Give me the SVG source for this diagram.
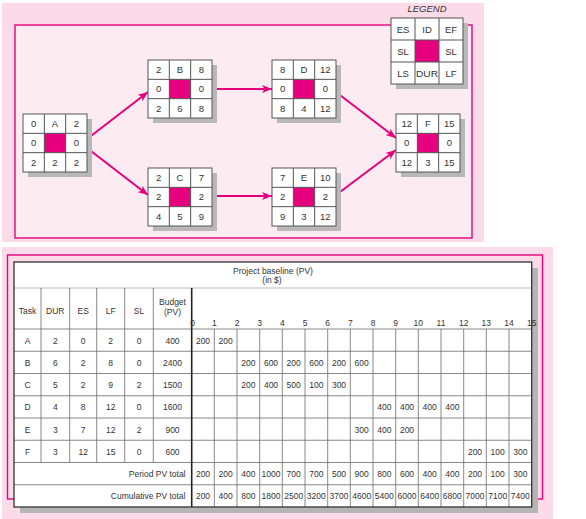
<svg xmlns="http://www.w3.org/2000/svg" width="586" height="519" viewBox="0 0 586 519">
<style>
text{font-family:"Liberation Sans",Arial,sans-serif;fill:#333;text-anchor:middle}
.nt{font-size:9.5px}
.tt{font-size:8.5px}
.shadow{fill:#b8b8b8}
.cell{fill:#fff;stroke:#555;stroke-width:1}
.mid{fill:#e6007e}
.grid{fill:none;stroke:#555;stroke-width:1}
.conn{stroke:#e6007e;stroke-width:2;fill:none;marker-end:url(#ah)}
.tg{stroke:#6a6a6a;stroke-width:0.8;fill:none}
.tl{stroke:#aaa;stroke-width:0.8;fill:none}
.r{text-anchor:end}
</style>
<defs>
<marker id="ah" markerUnits="userSpaceOnUse" markerWidth="10" markerHeight="8" viewBox="0 0 10 8" refX="10" refY="4" orient="auto">
<path d="M0 0L10 4L0 8L2.5 4Z" fill="#e6007e"/>
</marker>
</defs>
<!-- panels -->
<rect x="2" y="3" width="482" height="239" fill="#fadbe7"/>
<rect x="15" y="25" width="457" height="213" fill="#fdebf2" stroke="#e6007e" stroke-width="1.4"/>
<rect x="2" y="247" width="551" height="272" fill="#fadbe7"/>
<rect x="7.5" y="255" width="535" height="244" fill="none" stroke="#e6007e" stroke-width="1.4"/>

<g id="connectors">
<line class="conn" x1="87" y1="139" x2="148" y2="92"/>
<line class="conn" x1="87" y1="148" x2="148" y2="195"/>
<line class="conn" x1="211" y1="89" x2="272" y2="89"/>
<line class="conn" x1="211" y1="196" x2="272" y2="196"/>
<line class="conn" x1="336" y1="92" x2="396" y2="138"/>
<line class="conn" x1="336" y1="195" x2="396" y2="150"/>
</g>

<g id="node-A" transform="translate(23,114)">
<rect class="shadow" x="5" y="5" width="64" height="58"/>
<rect class="cell" width="64" height="58"/>
<rect class="mid" x="21.33" y="19.33" width="21.33" height="19.33"/>
<path class="grid" d="M21.33 0V58M42.67 0V58M0 19.33H64M0 38.67H64"/>
<text class="nt" x="10.67" y="13">0</text><text class="nt" x="32" y="13">A</text><text class="nt" x="53.33" y="13">2</text>
<text class="nt" x="10.67" y="32.4">0</text><text class="nt" x="53.33" y="32.4">0</text>
<text class="nt" x="10.67" y="51.7">2</text><text class="nt" x="32" y="51.7">2</text><text class="nt" x="53.33" y="51.7">2</text>
</g>
<g id="node-B" transform="translate(148,60)">
<rect class="shadow" x="5" y="5" width="64" height="58"/>
<rect class="cell" width="64" height="58"/>
<rect class="mid" x="21.33" y="19.33" width="21.33" height="19.33"/>
<path class="grid" d="M21.33 0V58M42.67 0V58M0 19.33H64M0 38.67H64"/>
<text class="nt" x="10.67" y="13">2</text><text class="nt" x="32" y="13">B</text><text class="nt" x="53.33" y="13">8</text>
<text class="nt" x="10.67" y="32.4">0</text><text class="nt" x="53.33" y="32.4">0</text>
<text class="nt" x="10.67" y="51.7">2</text><text class="nt" x="32" y="51.7">6</text><text class="nt" x="53.33" y="51.7">8</text>
</g>
<g id="node-C" transform="translate(148,168)">
<rect class="shadow" x="5" y="5" width="64" height="58"/>
<rect class="cell" width="64" height="58"/>
<rect class="mid" x="21.33" y="19.33" width="21.33" height="19.33"/>
<path class="grid" d="M21.33 0V58M42.67 0V58M0 19.33H64M0 38.67H64"/>
<text class="nt" x="10.67" y="13">2</text><text class="nt" x="32" y="13">C</text><text class="nt" x="53.33" y="13">7</text>
<text class="nt" x="10.67" y="32.4">2</text><text class="nt" x="53.33" y="32.4">2</text>
<text class="nt" x="10.67" y="51.7">4</text><text class="nt" x="32" y="51.7">5</text><text class="nt" x="53.33" y="51.7">9</text>
</g>
<g id="node-D" transform="translate(272,60)">
<rect class="shadow" x="5" y="5" width="64" height="58"/>
<rect class="cell" width="64" height="58"/>
<rect class="mid" x="21.33" y="19.33" width="21.33" height="19.33"/>
<path class="grid" d="M21.33 0V58M42.67 0V58M0 19.33H64M0 38.67H64"/>
<text class="nt" x="10.67" y="13">8</text><text class="nt" x="32" y="13">D</text><text class="nt" x="53.33" y="13">12</text>
<text class="nt" x="10.67" y="32.4">0</text><text class="nt" x="53.33" y="32.4">0</text>
<text class="nt" x="10.67" y="51.7">8</text><text class="nt" x="32" y="51.7">4</text><text class="nt" x="53.33" y="51.7">12</text>
</g>
<g id="node-E" transform="translate(272,168)">
<rect class="shadow" x="5" y="5" width="64" height="58"/>
<rect class="cell" width="64" height="58"/>
<rect class="mid" x="21.33" y="19.33" width="21.33" height="19.33"/>
<path class="grid" d="M21.33 0V58M42.67 0V58M0 19.33H64M0 38.67H64"/>
<text class="nt" x="10.67" y="13">7</text><text class="nt" x="32" y="13">E</text><text class="nt" x="53.33" y="13">10</text>
<text class="nt" x="10.67" y="32.4">2</text><text class="nt" x="53.33" y="32.4">2</text>
<text class="nt" x="10.67" y="51.7">9</text><text class="nt" x="32" y="51.7">3</text><text class="nt" x="53.33" y="51.7">12</text>
</g>
<g id="node-F" transform="translate(396,114)">
<rect class="shadow" x="5" y="5" width="64" height="58"/>
<rect class="cell" width="64" height="58"/>
<rect class="mid" x="21.33" y="19.33" width="21.33" height="19.33"/>
<path class="grid" d="M21.33 0V58M42.67 0V58M0 19.33H64M0 38.67H64"/>
<text class="nt" x="10.67" y="13">12</text><text class="nt" x="32" y="13">F</text><text class="nt" x="53.33" y="13">15</text>
<text class="nt" x="10.67" y="32.4">0</text><text class="nt" x="53.33" y="32.4">0</text>
<text class="nt" x="10.67" y="51.7">12</text><text class="nt" x="32" y="51.7">3</text><text class="nt" x="53.33" y="51.7">15</text>
</g>
<g id="legend">
<text class="nt" x="427" y="12" font-style="italic">LEGEND</text>
<g transform="translate(391,18)">
<rect class="shadow" x="5" y="5" width="72" height="66"/>
<rect class="cell" width="72" height="66"/>
<rect class="mid" x="24" y="22" width="24" height="22"/>
<path class="grid" d="M24 0V66M48 0V66M0 22H72M0 44H72"/>
<text class="nt" x="12" y="14.5">ES</text><text class="nt" x="36" y="14.5">ID</text><text class="nt" x="60" y="14.5">EF</text>
<text class="nt" x="12" y="36.5">SL</text><text class="nt" x="60" y="36.5">SL</text>
<text class="nt" x="12" y="58.5">LS</text><text class="nt" x="36" y="58.5" textLength="22" lengthAdjust="spacingAndGlyphs">DUR</text><text class="nt" x="60" y="58.5">LF</text>
</g>
</g>

<g id="table">
<rect x="20" y="268" width="518" height="245" fill="#b5b5b5"/>
<rect x="14" y="262" width="517.7" height="245" fill="#fff"/>
<path class="tl" d="M14 288H531.7"/>
<path class="tg" d="M41 288V462.5M69.7 288V462.5M96.7 288V462.5M124.7 288V462.5M153.3 288V462.5"/>
<path class="tg" d="M14 329H531.7M14 351.25H531.7M14 373.5H531.7M14 395.75H531.7M14 418H531.7M14 440.25H531.7M14 462.5H531.7M14 484.75H531.7"/>
<path class="tg" d="M214.3 329V507M237 329V507M259.7 329V507M282.3 329V507M305 329V507M327.7 329V507M350.3 329V507M373 329V507M395.7 329V507M418.3 329V507M441 329V507M463.7 329V507M486.3 329V507M509 329V507"/>
<line x1="191.7" y1="288" x2="191.7" y2="507" stroke="#222" stroke-width="1.6"/>
<rect x="14" y="262" width="517.7" height="245" fill="none" stroke="#333" stroke-width="1.3"/>

<text class="tt" x="273" y="274">Project baseline (PV)</text>
<text class="tt" x="272" y="282.5">(in $)</text>
<text class="tt" x="27.5" y="313.5">Task</text>
<text class="tt" x="55.3" y="313.5">DUR</text>
<text class="tt" x="83.2" y="313.5">ES</text>
<text class="tt" x="110.7" y="313.5">LF</text>
<text class="tt" x="139" y="313.5">SL</text>
<text class="tt" x="172.5" y="305">Budget</text>
<text class="tt" x="172.5" y="314.5">(PV)</text>
<g class="wk">
<text class="tt" x="192.5" y="325.5">0</text><text class="tt" x="214.3" y="325.5">1</text><text class="tt" x="237" y="325.5">2</text><text class="tt" x="259.7" y="325.5">3</text><text class="tt" x="282.3" y="325.5">4</text><text class="tt" x="305" y="325.5">5</text><text class="tt" x="327.7" y="325.5">6</text><text class="tt" x="350.3" y="325.5">7</text><text class="tt" x="373" y="325.5">8</text><text class="tt" x="395.7" y="325.5">9</text><text class="tt" x="418.3" y="325.5">10</text><text class="tt" x="441" y="325.5">11</text><text class="tt" x="463.7" y="325.5">12</text><text class="tt" x="486.3" y="325.5">13</text><text class="tt" x="509" y="325.5">14</text><text class="tt" x="531.7" y="325.5">15</text>
</g>
<!-- row A -->
<text class="tt" x="27.5" y="343.5">A</text><text class="tt" x="55.3" y="343.5">2</text><text class="tt" x="83.2" y="343.5">0</text><text class="tt" x="110.7" y="343.5">2</text><text class="tt" x="139" y="343.5">0</text><text class="tt" x="172.5" y="343.5">400</text>
<text class="tt" x="203" y="343.5">200</text><text class="tt" x="225.7" y="343.5">200</text>
<!-- row B -->
<text class="tt" x="27.5" y="365.75">B</text><text class="tt" x="55.3" y="365.75">6</text><text class="tt" x="83.2" y="365.75">2</text><text class="tt" x="110.7" y="365.75">8</text><text class="tt" x="139" y="365.75">0</text><text class="tt" x="172.5" y="365.75">2400</text>
<text class="tt" x="248.3" y="365.75">200</text><text class="tt" x="271" y="365.75">600</text><text class="tt" x="293.7" y="365.75">200</text><text class="tt" x="316.3" y="365.75">600</text><text class="tt" x="339" y="365.75">200</text><text class="tt" x="361.7" y="365.75">600</text>
<!-- row C -->
<text class="tt" x="27.5" y="388">C</text><text class="tt" x="55.3" y="388">5</text><text class="tt" x="83.2" y="388">2</text><text class="tt" x="110.7" y="388">9</text><text class="tt" x="139" y="388">2</text><text class="tt" x="172.5" y="388">1500</text>
<text class="tt" x="248.3" y="388">200</text><text class="tt" x="271" y="388">400</text><text class="tt" x="293.7" y="388">500</text><text class="tt" x="316.3" y="388">100</text><text class="tt" x="339" y="388">300</text>
<!-- row D -->
<text class="tt" x="27.5" y="410.25">D</text><text class="tt" x="55.3" y="410.25">4</text><text class="tt" x="83.2" y="410.25">8</text><text class="tt" x="110.7" y="410.25">12</text><text class="tt" x="139" y="410.25">0</text><text class="tt" x="172.5" y="410.25">1600</text>
<text class="tt" x="384.3" y="410.25">400</text><text class="tt" x="407" y="410.25">400</text><text class="tt" x="429.7" y="410.25">400</text><text class="tt" x="452.3" y="410.25">400</text>
<!-- row E -->
<text class="tt" x="27.5" y="432.5">E</text><text class="tt" x="55.3" y="432.5">3</text><text class="tt" x="83.2" y="432.5">7</text><text class="tt" x="110.7" y="432.5">12</text><text class="tt" x="139" y="432.5">2</text><text class="tt" x="172.5" y="432.5">900</text>
<text class="tt" x="361.7" y="432.5">300</text><text class="tt" x="384.3" y="432.5">400</text><text class="tt" x="407" y="432.5">200</text>
<!-- row F -->
<text class="tt" x="27.5" y="454.75">F</text><text class="tt" x="55.3" y="454.75">3</text><text class="tt" x="83.2" y="454.75">12</text><text class="tt" x="110.7" y="454.75">15</text><text class="tt" x="139" y="454.75">0</text><text class="tt" x="172.5" y="454.75">600</text>
<text class="tt" x="475" y="454.75">200</text><text class="tt" x="497.7" y="454.75">100</text><text class="tt" x="520.3" y="454.75">300</text>
<!-- period total -->
<text class="tt r" x="185.5" y="477">Period PV total</text>
<text class="tt" x="203" y="477">200</text><text class="tt" x="225.7" y="477">200</text><text class="tt" x="248.3" y="477">400</text><text class="tt" x="271" y="477">1000</text><text class="tt" x="293.7" y="477">700</text><text class="tt" x="316.3" y="477">700</text><text class="tt" x="339" y="477">500</text><text class="tt" x="361.7" y="477">900</text><text class="tt" x="384.3" y="477">800</text><text class="tt" x="407" y="477">600</text><text class="tt" x="429.7" y="477">400</text><text class="tt" x="452.3" y="477">400</text><text class="tt" x="475" y="477">200</text><text class="tt" x="497.7" y="477">100</text><text class="tt" x="520.3" y="477">300</text>
<!-- cumulative -->
<text class="tt r" x="185.5" y="499.25">Cumulative PV total</text>
<text class="tt" x="203" y="499.25">200</text><text class="tt" x="225.7" y="499.25">400</text><text class="tt" x="248.3" y="499.25">800</text><text class="tt" x="271" y="499.25">1800</text><text class="tt" x="293.7" y="499.25">2500</text><text class="tt" x="316.3" y="499.25">3200</text><text class="tt" x="339" y="499.25">3700</text><text class="tt" x="361.7" y="499.25">4600</text><text class="tt" x="384.3" y="499.25">5400</text><text class="tt" x="407" y="499.25">6000</text><text class="tt" x="429.7" y="499.25">6400</text><text class="tt" x="452.3" y="499.25">6800</text><text class="tt" x="475" y="499.25">7000</text><text class="tt" x="497.7" y="499.25">7100</text><text class="tt" x="520.3" y="499.25">7400</text>
</g>
</svg>
